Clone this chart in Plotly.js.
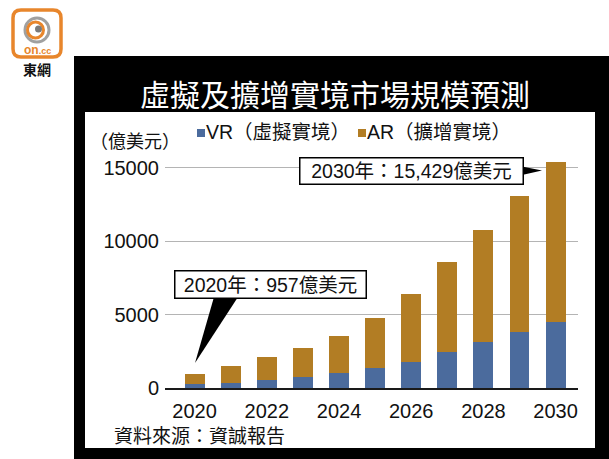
<!DOCTYPE html>
<html>
<head>
<meta charset="utf-8">
<script src="https://cdn.plot.ly/plotly-3.0.1.min.js"></script>
<style>
  html, body { margin: 0; padding: 0; background: #ffffff; }
  #chart { width: 609px; height: 459px; }
</style>
</head>
<body>
<div id="chart"></div>
<script>
// ---- Data ----
const years = [2020, 2021, 2022, 2023, 2024, 2025, 2026, 2027, 2028, 2029, 2030];
const vrValues = [270, 360, 550, 750, 1000, 1350, 1800, 2450, 3130, 3800, 4500];
const arValues = [687, 1140, 1550, 1970, 2560, 3400, 4640, 6130, 7640, 9300, 10929];
const seriesNames = ['VR（虛擬實境）', 'AR（擴增實境）'];
const xTickValues = [2020, 2022, 2024, 2026, 2028, 2030];
const yTickValues = [0, 5000, 10000, 15000];
const titleText = '虛擬及擴增實境市場規模預測';
const unitText = '（億美元）';
const sourceText = '資料來源：資誠報告';
const callout2020 = '2020年：957億美元';
const callout2030 = '2030年：15,429億美元';

// ---- Styling ----
const W = 609, H = 459;
const L = 165, R = 31, T = 150, B = 71;
const PW = W - L - R, PH = H - T - B;
const px = X => (X - L) / PW;
const py = Y => (H - B - Y) / PH;
const vrColor = '#4b6b9d';
const arColor = '#b27d24';
const orange = '#e8862c';
const mixFont = 'Liberation Sans, Arial, Noto Sans CJK TC, sans-serif';
const cjkFont = 'Noto Sans CJK TC, sans-serif';

const traces = [
  { type: 'bar', x: years, y: vrValues, name: seriesNames[0], width: 0.55,
    marker: { color: vrColor }, hoverinfo: 'skip' },
  { type: 'bar', x: years, y: arValues, name: seriesNames[1], width: 0.55,
    marker: { color: arColor }, hoverinfo: 'skip' }
];

function rr(x0, y0, x1, y1, r) {
  const a = px(x0), b = px(x1);
  return `M${px(x0 + r)},${py(y0)} L${px(x1 - r)},${py(y0)} Q${b},${py(y0)} ${b},${py(y0 + r)} ` +
         `L${b},${py(y1 - r)} Q${b},${py(y1)} ${px(x1 - r)},${py(y1)} L${px(x0 + r)},${py(y1)} ` +
         `Q${a},${py(y1)} ${a},${py(y1 - r)} L${a},${py(y0 + r)} Q${a},${py(y0)} ${px(x0 + r)},${py(y0)} Z`;
}
function circ(cx, cy, r, extra) {
  return Object.assign({ type: 'circle', xref: 'paper', yref: 'paper', layer: 'below',
    x0: px(cx - r), x1: px(cx + r), y0: py(cy + r), y1: py(cy - r) }, extra);
}
function tri(pts) {
  return 'M' + pts.map(p => px(p[0]) + ',' + py(p[1])).join(' L') + ' Z';
}

const shapes = [
  // black frame
  { type: 'rect', xref: 'paper', yref: 'paper', layer: 'below',
    x0: px(74), x1: px(609), y0: py(459), y1: py(56),
    fillcolor: '#000000', line: { width: 0 } },
  // white panel
  { type: 'rect', xref: 'paper', yref: 'paper', layer: 'below',
    x0: px(85), x1: px(595), y0: py(448), y1: py(112),
    fillcolor: '#ffffff', line: { width: 0 } },
  // logo
  { type: 'path', xref: 'paper', yref: 'paper', layer: 'below',
    path: rr(13, 10, 61, 57, 8), fillcolor: '#ffffff', line: { color: orange, width: 3.5 } },
  circ(37, 30, 12, { line: { color: '#a0a0a0', width: 3 }, fillcolor: 'rgba(0,0,0,0)' }),
  circ(35.5, 30, 8, { line: { color: orange, width: 3 }, fillcolor: 'rgba(0,0,0,0)' }),
  circ(38.5, 29, 3.5, { line: { width: 0 }, fillcolor: '#7a7a7a' }),
  // legend swatches
  { type: 'rect', xref: 'paper', yref: 'paper', layer: 'above',
    x0: px(197), x1: px(205), y0: py(137), y1: py(129), fillcolor: vrColor, line: { width: 0 } },
  { type: 'rect', xref: 'paper', yref: 'paper', layer: 'above',
    x0: px(358), x1: px(366), y0: py(137), y1: py(129), fillcolor: arColor, line: { width: 0 } },
  // callout pointers
  { type: 'path', xref: 'paper', yref: 'paper', layer: 'above',
    path: tri([[214, 297], [238, 297], [195, 363]]), fillcolor: '#000000', line: { width: 0 } },
  { type: 'path', xref: 'paper', yref: 'paper', layer: 'above',
    path: tri([[522, 166.5], [522, 175], [542, 170.5]]), fillcolor: '#000000', line: { width: 0 } }
];

const annotations = [
  { text: titleText, xref: 'paper', yref: 'paper', x: px(335), y: py(93), showarrow: false,
    xanchor: 'center', yanchor: 'middle', font: { family: cjkFont, size: 30, color: '#ffffff' } },
  { text: unitText, xref: 'paper', yref: 'paper', x: px(88), y: py(142), showarrow: false,
    xanchor: 'left', yanchor: 'middle', font: { family: mixFont, size: 18, color: '#111111' } },
  { text: seriesNames[0], xref: 'paper', yref: 'paper', x: px(204), y: py(132), showarrow: false,
    xanchor: 'left', yanchor: 'middle', font: { family: mixFont, size: 19.5, color: '#111111' } },
  { text: seriesNames[1], xref: 'paper', yref: 'paper', x: px(365), y: py(132), showarrow: false,
    xanchor: 'left', yanchor: 'middle', font: { family: mixFont, size: 19.5, color: '#111111' } },
  { text: callout2020, xref: 'paper', yref: 'paper', x: px(270), y: py(284.5), showarrow: false,
    xanchor: 'center', yanchor: 'middle', width: 188, height: 24, borderpad: 1,
    bordercolor: '#000000', borderwidth: 1.5, bgcolor: '#ffffff',
    font: { family: mixFont, size: 19.5, color: '#111111' } },
  { text: callout2030, xref: 'paper', yref: 'paper', x: px(411), y: py(171), showarrow: false,
    xanchor: 'center', yanchor: 'middle', width: 220, height: 23, borderpad: 1,
    bordercolor: '#000000', borderwidth: 1.5, bgcolor: '#ffffff',
    font: { family: mixFont, size: 19.5, color: '#111111' } },
  { text: sourceText, xref: 'paper', yref: 'paper', x: px(112), y: py(436), showarrow: false,
    xanchor: 'left', yanchor: 'middle', font: { family: mixFont, size: 19, color: '#111111' } },
  // logo texts
  { text: '<b>on</b><b style="font-size:9px">.cc</b>', xref: 'paper', yref: 'paper', x: px(37), y: py(50), showarrow: false,
    xanchor: 'center', yanchor: 'middle', font: { family: 'Liberation Sans, Arial, sans-serif', size: 12, color: orange } },
  { text: '<b>東網</b>', xref: 'paper', yref: 'paper', x: px(37), y: py(69), showarrow: false,
    xanchor: 'center', yanchor: 'middle', font: { family: cjkFont, size: 14, color: '#111111' } }
];

const layout = {
  width: W, height: H,
  margin: { l: L, r: R, t: T, b: B, pad: 0 },
  paper_bgcolor: '#ffffff',
  plot_bgcolor: 'rgba(0,0,0,0)',
  barmode: 'stack',
  bargap: 0,
  showlegend: false,
  xaxis: {
    type: 'linear', range: [2019.18, 2030.62], tickvals: xTickValues,
    ticktext: xTickValues.map(String), showgrid: false, zeroline: false,
    showline: true, linecolor: '#1a1a1a', linewidth: 2, ticks: '',
    ticklabelstandoff: 4, fixedrange: true, automargin: false,
    tickfont: { family: mixFont, size: 20, color: '#111111' }
  },
  yaxis: {
    range: [0, PH / 14.667 * 1000], tickvals: yTickValues,
    ticktext: yTickValues.map(String), showgrid: true, gridcolor: '#b4b4b4', gridwidth: 1,
    zeroline: false, showline: false, ticks: '', ticklabelstandoff: 5,
    fixedrange: true, automargin: false,
    tickfont: { family: mixFont, size: 20, color: '#111111' }
  },
  shapes: shapes,
  annotations: annotations
};

Plotly.newPlot('chart', traces, layout, { displayModeBar: false, staticPlot: true });
</script>
</body>
</html>
